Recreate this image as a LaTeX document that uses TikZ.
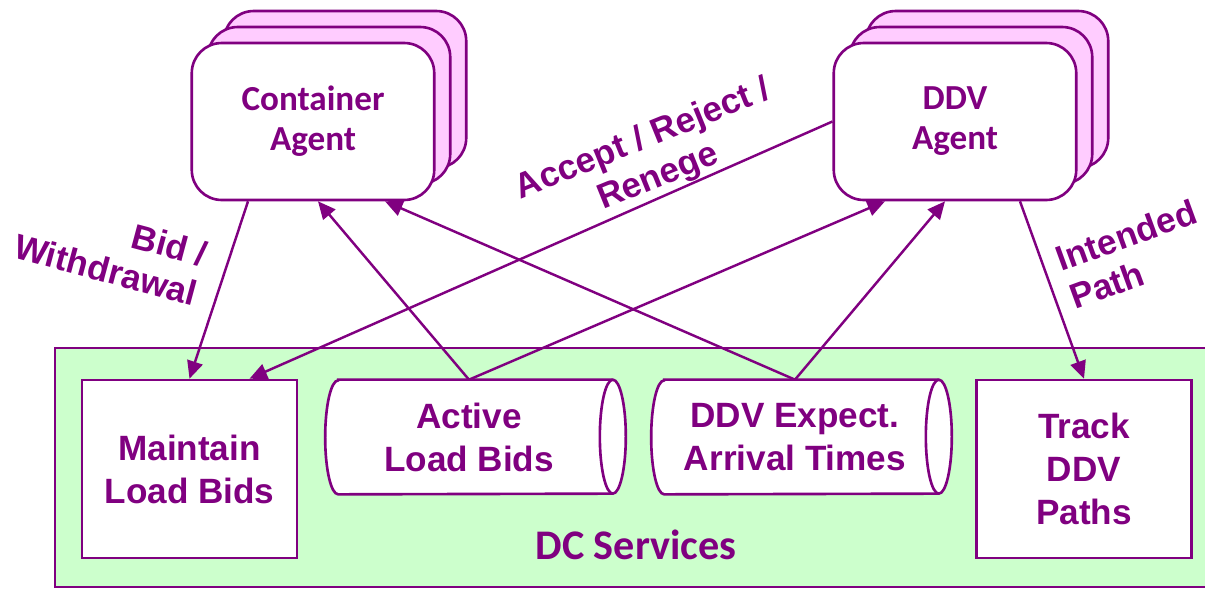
\documentclass[tikz,border=0pt]{standalone}
\usepackage{fontspec}
\setmainfont{Liberation Sans}
\newfontfamily\agentfont{Carlito}
\usetikzlibrary{arrows.meta}
\definecolor{dcpurple}{RGB}{128,0,128}
\definecolor{agentpink}{RGB}{255,204,255}
\definecolor{dcgreen}{RGB}{204,255,204}
\pgfdeclarelayer{back}
\pgfsetlayers{back,main}

\begin{document}
\begin{tikzpicture}[x=0.02cm,y=-0.02cm,
   every node/.style={text=dcpurple,font=\bfseries\fontsize{20}{24.5}\selectfont,align=center},
   outline/.style={draw=dcpurple,line width=1.5pt},
   agent/.style={outline,fill=white,rounded corners=0.6cm,minimum width=4.85cm,minimum height=3.14cm,
     font=\agentfont\bfseries\fontsize{20}{22.8}\selectfont},
   service/.style={outline,fill=white,minimum width=4.3cm,minimum height=3.56cm},
   tank/.style={minimum width=5.74cm,minimum height=2.28cm,inner sep=0pt},
   flow/.style={draw=dcpurple,line width=1.4pt,-{Triangle[length=10pt,width=9pt]}},
   msg/.style={font=\bfseries\fontsize{20}{23}\selectfont}]
   \path[use as bounding box,clip] (0,0) rectangle (1205,589);
   \foreach \s in {2,1}{
     \node[agent,fill=agentpink] at (313+16*\s,121.5-16*\s) {};
     \node[agent,fill=agentpink] at (955+16*\s,121.5-16*\s) {};
   }
   \node[agent] (ca) at (313,121.5) {Container\\Agent};
   \node[agent] (da) at (955,121.5) {DDV\\Agent};
   \node[service] (mlb) at (189.5,469) {Maintain\\Load Bids};
   \node[service] (tdp) at (1084,469) {Track\\DDV\\Paths};
   \node[tank] (alb) at (469,437) {Active\\Load Bids};
   \node[tank] (dea) at (795,437) {DDV Expect.\\Arrival Times};
   \node[font=\agentfont\bfseries\fontsize{24}{28}\selectfont] (dcs) at (636,545) {DC Services};
   \begin{pgfonlayer}{back}
     \draw[outline,fill=dcgreen] (55,348) rectangle (1215,587);
     \foreach \t in {alb,dea}{
       \draw[outline,fill=white] ([xshift=.26cm]\t.north west) -- (\t.north east)
         arc[start angle=90,end angle=-90,x radius=.26cm,y radius=1.14cm]
         -- ([xshift=.26cm]\t.south west)
         arc[start angle=270,end angle=90,x radius=.26cm,y radius=1.14cm] -- cycle;
       \draw[outline] (\t.north east) arc[start angle=90,end angle=270,x radius=.26cm,y radius=1.14cm];
     }
   \end{pgfonlayer}
   \draw[flow] ([xshift=-1.3cm]ca.south) -- (mlb.north);
   \draw[flow] (da.west) -- ([xshift=1.2cm]mlb.north);
   \draw[flow] (alb.north) -- ([xshift=0.1cm]ca.south);
   \draw[flow] (alb.north) -- ([xshift=-1.4cm]da.south);
   \draw[flow] (dea.north) -- ([xshift=1.44cm]ca.south);
   \draw[flow] (dea.north) -- ([xshift=-0.2cm]da.south);
   \draw[flow] ([xshift=1.3cm]da.south) -- (tdp.north);
   \node[msg,rotate=-15,align=right] (bw) at (111,250) {Bid /\\Withdrawal};
   \node[msg,rotate=22] (arr) at (651,159) {Accept / Reject /\\Renege};
   \node[msg,rotate=20,align=left] (ip) at (1133,254) {Intended\\Path};
\end{tikzpicture}
\end{document}
